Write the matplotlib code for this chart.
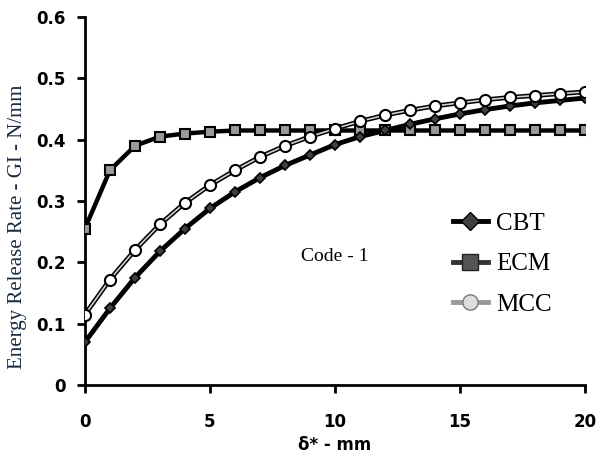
import matplotlib
matplotlib.use("Agg")
import matplotlib.pyplot as plt
from matplotlib.lines import Line2D

x = list(range(0, 21))
cbt = [0.070, 0.125, 0.175, 0.218, 0.255, 0.288, 0.315, 0.338, 0.358, 0.375, 0.392,
       0.405, 0.415, 0.425, 0.434, 0.442, 0.449, 0.455, 0.460, 0.464, 0.468]
ecm = [0.255, 0.350, 0.390, 0.405, 0.410, 0.413, 0.415, 0.415, 0.415, 0.415, 0.415,
       0.415, 0.415, 0.415, 0.415, 0.415, 0.415, 0.415, 0.415, 0.415, 0.415]
mcc = [0.115, 0.172, 0.220, 0.262, 0.297, 0.326, 0.350, 0.372, 0.390, 0.405, 0.418,
       0.430, 0.440, 0.448, 0.455, 0.460, 0.465, 0.469, 0.472, 0.475, 0.478]
series_names = ["CBT", "ECM", "MCC"]
xticks = [0, 5, 10, 15, 20]
yticks = [0, 0.1, 0.2, 0.3, 0.4, 0.5, 0.6]
ytick_labels = ["0", "0.1", "0.2", "0.3", "0.4", "0.5", "0.6"]

fig = plt.figure(figsize=(6.02, 4.59), dpi=100)
ax = fig.add_axes([0.141, 0.161, 0.831, 0.802])

serif = ["Liberation Serif", "DejaVu Serif"]

# ECM
ax.plot(x, ecm, color="black", lw=3.2, zorder=3)
ax.plot(x, ecm, ls="none", marker="s", ms=7.5, mfc="#9a9a9a", mec="black", mew=1.5, zorder=4)
# CBT
ax.plot(x, cbt, color="black", lw=3.5, zorder=3)
ax.plot(x, cbt, ls="none", marker="D", ms=5.5, mfc="#404040", mec="black", mew=1.2, zorder=4)
# MCC
ax.plot(x, mcc, color="black", lw=3.4, zorder=5)
ax.plot(x, mcc, color="#d0d0d0", lw=1.2, zorder=6)
ax.plot(x, mcc, ls="none", marker="o", ms=8, mfc="white", mec="black", mew=1.5, zorder=7)

ax.set_xlim(0, 20)
ax.set_ylim(0, 0.6)
ax.set_xticks(xticks)
ax.set_xticklabels([str(t) for t in xticks])
ax.set_yticks(yticks)
ax.set_yticklabels(ytick_labels)
for s in ["top", "right"]:
    ax.spines[s].set_visible(False)
for s in ["left", "bottom"]:
    ax.spines[s].set_linewidth(2)
ax.tick_params(axis="both", direction="out", length=6, width=2, labelsize=12, pad=8)
for lab in ax.get_xticklabels() + ax.get_yticklabels():
    lab.set_fontweight("bold")
ax.tick_params(axis="x", pad=14)

ax.set_xlabel("δ* - mm", fontsize=12, fontweight="bold", labelpad=4)
ax.set_ylabel("Energy Release Rate - GI - N/mm", fontsize=15, family=serif,
              color="#1a2a40", labelpad=8)
ax.yaxis.set_label_coords(-0.115, 0.43)

ax.text(10, 0.21, "Code - 1", fontsize=14, family=serif, ha="center", va="center")

handles = [
    Line2D([], [], color="black", lw=3.5, marker="D", ms=9, mfc="#404040", mec="black"),
    Line2D([], [], color="#333333", lw=3.5, marker="s", ms=11, mfc="#555555", mec="#222222"),
    Line2D([], [], color="#999999", lw=3.5, marker="o", ms=11, mfc="#dddddd", mec="#777777"),
]
leg = ax.legend(handles, series_names, loc="upper left", bbox_to_anchor=(0.69, 0.53),
                frameon=False, prop={"family": serif, "size": 18},
                handlelength=1.4, handletextpad=0.35, labelspacing=0.72)

fig.savefig("out.png", dpi=100)
